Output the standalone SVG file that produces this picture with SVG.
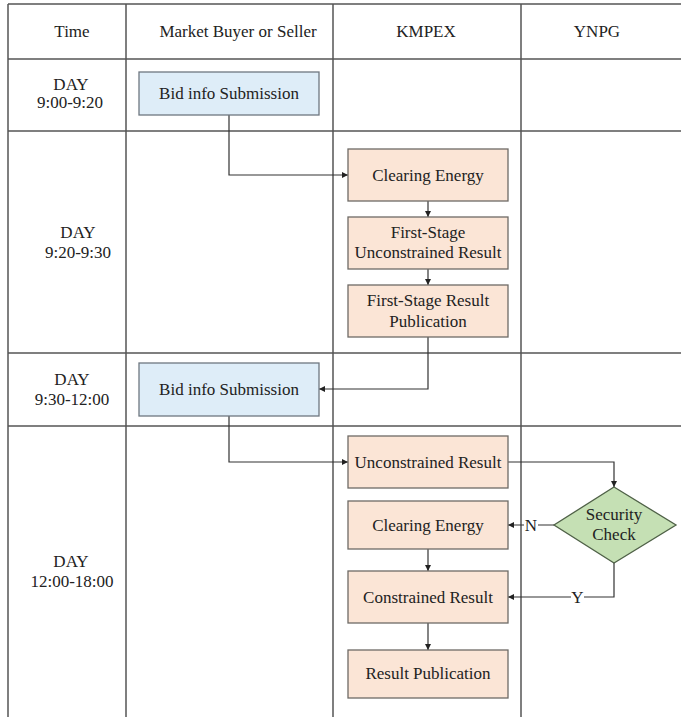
<svg xmlns="http://www.w3.org/2000/svg" width="681" height="717" viewBox="0 0 681 717">
<style>
.grid{stroke:#555;stroke-width:1.5;fill:none}
.t{font-family:'Liberation Serif','DejaVu Serif',serif;font-size:17px;fill:#222;text-anchor:middle}
.blue{fill:#deedf8;stroke:#6e7780;stroke-width:1.3}
.orange{fill:#fbe5d6;stroke:#6e6a66;stroke-width:1.3}
.green{fill:#c5e0b4;stroke:#4f6147;stroke-width:1.3}
.conn{stroke:#333;stroke-width:1.2;fill:none}
</style>
<defs>
<marker id="arr" viewBox="0 0 10 10" refX="10" refY="5" markerWidth="6" markerHeight="6" orient="auto" markerUnits="userSpaceOnUse">
<path d="M0,0 L10,5 L0,10 z" fill="#222"/>
</marker>
</defs>
<rect width="681" height="717" fill="#fff"/>
<g id="grid">
<path class="grid" d="M8,4 H681 M8,59 H681 M8,131 H681 M8,353 H681 M8,426 H681"/>
<path class="grid" d="M8,4 V717 M126,4 V717 M333,4 V717 M521,4 V717"/>
</g>
<g id="headers" font-family="Liberation Serif, serif">
<text class="t" x="72" y="37">Time</text>
<text class="t" x="238" y="37">Market Buyer or Seller</text>
<text class="t" x="426" y="37">KMPEX</text>
<text class="t" x="597" y="37">YNPG</text>
</g>
<g id="times">
<text class="t" x="71" y="90">DAY</text>
<text class="t" x="70" y="108">9:00-9:20</text>
<text class="t" x="78" y="238">DAY</text>
<text class="t" x="78" y="258">9:20-9:30</text>
<text class="t" x="72" y="385">DAY</text>
<text class="t" x="72" y="405">9:30-12:00</text>
<text class="t" x="71" y="567">DAY</text>
<text class="t" x="72" y="587">12:00-18:00</text>
</g>
<g id="connectors">
<path class="conn" d="M229,115 V175 H348" marker-end="url(#arr)"/>
<path class="conn" d="M428,201 V217" marker-end="url(#arr)"/>
<path class="conn" d="M428,269 V285" marker-end="url(#arr)"/>
<path class="conn" d="M428,337 V389 H319" marker-end="url(#arr)"/>
<path class="conn" d="M229,416 V462 H348" marker-end="url(#arr)"/>
<path class="conn" d="M508,462 H614 V487" marker-end="url(#arr)"/>
<path class="conn" d="M554,525 H508" marker-end="url(#arr)"/>
<path class="conn" d="M614,563 V597 H508" marker-end="url(#arr)"/>
<path class="conn" d="M428,549 V571" marker-end="url(#arr)"/>
<path class="conn" d="M428,623 V650" marker-end="url(#arr)"/>
<rect x="524" y="517" width="14" height="16" fill="#fff"/>
<text class="t" x="531" y="531">N</text>
<rect x="571" y="589" width="13" height="16" fill="#fff"/>
<text class="t" x="577.5" y="603">Y</text>
</g>
<g id="bid1">
<rect class="blue" x="139" y="72" width="180" height="43"/>
<text class="t" x="229" y="99">Bid info Submission</text>
</g>
<g id="clearing1">
<rect class="orange" x="348" y="149" width="160" height="52"/>
<text class="t" x="428" y="181">Clearing Energy</text>
</g>
<g id="firststage-unconstrained">
<rect class="orange" x="348" y="217" width="160" height="52"/>
<text class="t" x="428" y="238">First-Stage</text>
<text class="t" x="428" y="258">Unconstrained Result</text>
</g>
<g id="firststage-publication">
<rect class="orange" x="348" y="285" width="160" height="52"/>
<text class="t" x="428" y="306">First-Stage Result</text>
<text class="t" x="428" y="327">Publication</text>
</g>
<g id="bid2">
<rect class="blue" x="139" y="363" width="180" height="53"/>
<text class="t" x="229" y="395">Bid info Submission</text>
</g>
<g id="unconstrained">
<rect class="orange" x="348" y="436" width="160" height="52"/>
<text class="t" x="428" y="468">Unconstrained Result</text>
</g>
<g id="clearing2">
<rect class="orange" x="348" y="501" width="160" height="48"/>
<text class="t" x="428" y="531">Clearing Energy</text>
</g>
<g id="security">
<polygon class="green" points="614,487 676,525 614,563 554,525"/>
<text class="t" x="614" y="520">Security</text>
<text class="t" x="614" y="540">Check</text>
</g>
<g id="constrained">
<rect class="orange" x="348" y="571" width="160" height="52"/>
<text class="t" x="428" y="603">Constrained Result</text>
</g>
<g id="publication">
<rect class="orange" x="348" y="650" width="160" height="48"/>
<text class="t" x="428" y="679">Result Publication</text>
</g>
</svg>
